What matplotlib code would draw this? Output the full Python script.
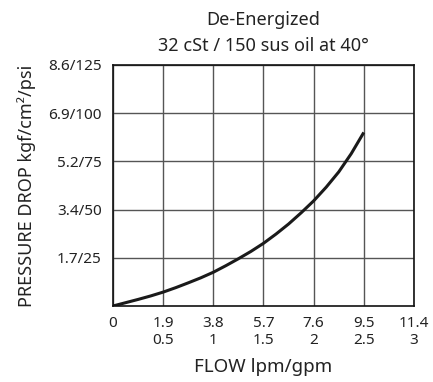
import matplotlib
matplotlib.use("Agg")
import matplotlib.pyplot as plt

plt.rcParams['font.family'] = ['Noto Sans', 'DejaVu Sans']

# flow in gpm, pressure drop in psi
flow_gpm = [0, 0.125, 0.25, 0.375, 0.5, 0.625, 0.75, 0.875, 1.0, 1.125, 1.25,
            1.375, 1.5, 1.625, 1.75, 1.875, 2.0, 2.125, 2.25, 2.375, 2.5]
drop_psi = [0, 1.7, 3.4, 5.2, 7.2, 9.5, 12.0, 14.6, 17.5, 20.9, 24.5,
            28.3, 32.5, 37.3, 42.5, 48.3, 54.5, 61.6, 69.5, 79.0, 90.0]

x_ticks = [0, 0.5, 1, 1.5, 2, 2.5, 3]
x_labels = ["0", "1.9\n0.5", "3.8\n1", "5.7\n1.5", "7.6\n2", "9.5\n2.5", "11.4\n3"]
y_ticks = [25, 50, 75, 100, 125]
y_labels = ["1.7/25", "3.4/50", "5.2/75", "6.9/100", "8.6/125"]

fig = plt.figure(figsize=(4.33, 3.82), dpi=100)
ax = fig.add_axes([0.261, 0.199, 0.695, 0.631])

ax.plot(flow_gpm, drop_psi, color='#1a1a1a', linewidth=2.2, solid_capstyle='butt')

ax.set_xlim(0, 3)
ax.set_ylim(0, 125)
ax.set_xticks(x_ticks)
ax.set_xticklabels(x_labels, fontsize=11, color='#222', linespacing=1.2, va='top')
ax.set_yticks(y_ticks)
ax.set_yticklabels(y_labels, fontsize=11, color='#222')
ax.tick_params(axis='x', length=0, pad=7)
ax.tick_params(axis='y', length=0, pad=8)
ax.grid(True, color='#555', linewidth=1)
for s in ax.spines.values():
    s.set_linewidth(1.2)
    s.set_color('#111')

ax.set_xlabel("FLOW lpm/gpm", fontsize=13.5, color='#222', labelpad=7)
ax.set_ylabel("PRESSURE DROP kgf/cm²/psi", fontsize=13, color='#222', labelpad=9)
ax.set_title("De-Energized\n32 cSt / 150 sus oil at 40°", fontsize=13, color='#222',
             linespacing=1.55, pad=10)

fig.savefig("out.png", dpi=100)
